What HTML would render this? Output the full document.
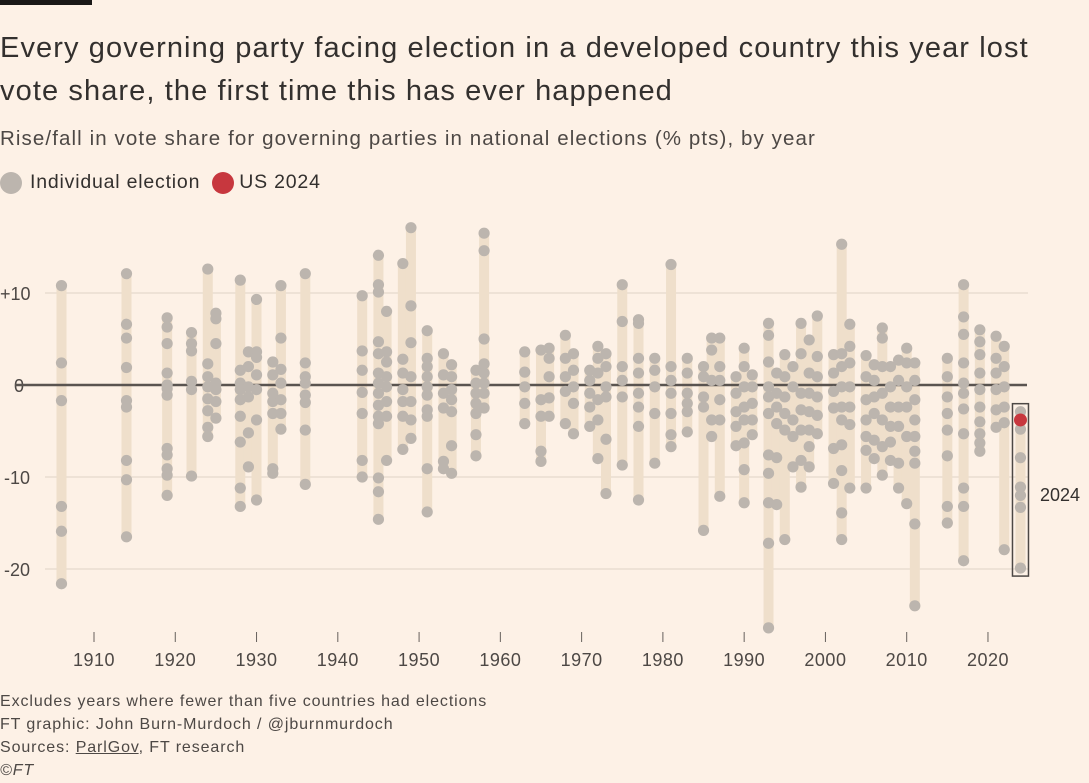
<!DOCTYPE html>
<html><head><meta charset="utf-8"><style>
body{margin:0;background:#fdf1e6;font-family:"Liberation Sans",sans-serif;color:#33302e;}
#wrap{position:relative;width:1089px;height:783px;overflow:hidden;background:#fdf1e6;}
.t{position:absolute;white-space:nowrap;}
</style></head><body>
<div id="wrap">
<div class="t" style="left:0;top:0;width:92px;height:5px;background:#1a1817"></div>
<div class="t" style="left:0;top:27px;font-size:29px;letter-spacing:1.1px;line-height:43px;color:#33302e">Every governing party facing election in a developed country this year lost<br>vote share, the first time this has ever happened</div>
<div class="t" style="left:0;top:127px;font-size:20.5px;letter-spacing:1.1px;color:#4d4845">Rise/fall in vote share for governing parties in national elections (% pts), by year</div>
<div class="t" style="left:0;top:171px;font-size:19.5px;letter-spacing:0.8px;color:#33302e;display:flex;align-items:center">
<span style="display:inline-block;width:22px;height:22px;border-radius:50%;background:#bcb5ae;margin-right:8px"></span><span>Individual election</span>
<span style="display:inline-block;width:22px;height:22px;border-radius:50%;background:#c7373e;margin:0 5px 0 12px"></span><span>US 2024</span></div>
<svg id="plot" width="1089" height="783" style="position:absolute;left:0;top:0"></svg>
<div class="t" style="left:0;top:690px;font-size:16px;letter-spacing:0.9px;line-height:23px;color:#4d4845">Excludes years where fewer than five countries had elections<br>FT graphic: John Burn-Murdoch / @jburnmurdoch<br>Sources: <span style="text-decoration:underline">ParlGov</span>, FT research<br><i>©FT</i></div>
</div>
<script>
const years=[1906,1914,1919,1922,1924,1925,1928,1929,1930,1932,1933,1936,1943,1945,1946,1948,1949,1951,1953,1954,1957,1958,1963,1965,1966,1968,1969,1971,1972,1973,1975,1977,1979,1981,1983,1985,1986,1987,1989,1990,1991,1993,1994,1995,1996,1997,1998,1999,2001,2002,2003,2005,2006,2007,2008,2009,2010,2011,2015,2017,2019,2021,2022,2024];
const values=[
[10.8,2.4,-1.7,-13.2,-15.9,-21.6],
[12.1,6.6,5.1,1.9,-1.7,-2.4,-8.2,-10.3,-16.5],
[7.3,6.3,4.5,1.3,0,-0.4,-1.1,-6.9,-7.6,-9.1,-9.8,-12],
[5.7,4.5,3.7,0.4,-0.5,-9.9],
[12.6,2.3,0.9,-0.2,-1.5,-2.8,-4.6,-5.6],
[7.8,7.2,4.5,0.2,-0.5,-1.8,-3.6],
[11.4,1.6,0.2,-0.5,-1.6,-3.4,-6.2,-11.2,-13.2],
[3.6,2,-0.2,-1.3,-5.2,-8.9],
[9.3,3.6,3,1.1,-0.5,-3.8,-12.5],
[2.5,1.1,-0.9,-1.8,-3.1,-9.1,-9.6],
[10.8,5.1,1.7,0.2,-1.6,-3.1,-4.8],
[12.1,2.4,0.9,0.2,-1.1,-1.9,-4.9,-10.8],
[9.7,3.7,1.6,-0.8,-3.1,-8.2,-10],
[14.1,10.9,10.1,4.7,3.4,1.3,0.2,-0.9,-2.2,-3.4,-4.2,-10.1,-11.6,-14.6],
[8,3.6,2.5,0.9,-0.2,-1.8,-3.4,-8.2],
[13.2,2.8,1.3,-0.5,-1.8,-3.4,-7],
[17.1,8.6,4.6,0.9,-1.8,-3.8,-5.8],
[5.9,2.9,2,0.9,-0.2,-1.1,-2.7,-3.4,-9.1,-13.8],
[3.4,1.1,-0.9,-2.5,-8.3,-9.1],
[2.2,0.9,-0.5,-1.6,-2.9,-6.6,-9.6],
[1.6,0.2,-0.9,-2,-3.1,-5.4,-7.7],
[16.5,14.6,5,2.3,1.3,0.2,-0.9,-2.5],
[3.6,1.4,-0.2,-2,-4.2],
[3.8,-1.6,-3.4,-7.2,-8.3],
[4,2.9,0.9,-1.4,-3.4],
[5.4,2.9,0.9,-0.7,-4.2],
[3.4,1.6,-0.2,-2,-5.3],
[1.6,0.5,-0.9,-2.4,-4.5],
[4.2,2.9,1.3,-1.6,-3.8,-8],
[3.4,2,-0.2,-1.3,-5.9,-11.8],
[10.9,6.9,2,0.5,-1.3,-8.7],
[7.1,6.7,2.9,1.3,-0.9,-2.4,-4.5,-12.5],
[2.9,1.6,-0.2,-3.1,-8.5],
[13.1,2,0.5,-0.9,-3.1,-5.4,-6.7],
[2.9,1.3,-0.9,-2,-2.9,-5.1],
[2,0.9,-1.3,-2.4,-15.8],
[5.1,3.8,0.5,-3.8,-5.6],
[5.1,2,0.5,-1.6,-3.8,-12.1],
[0.9,-0.9,-2.9,-4.5,-6.6],
[4,2,-0.2,-2.4,-3.8,-6.3,-9.2,-12.8],
[1.1,-0.2,-2,-3.8,-5.4],
[6.7,5.4,2.5,-0.2,-1.3,-3.1,-7.6,-9.6,-12.8,-17.2,-26.4],
[1.3,-0.9,-2.4,-4.2,-7.9,-13],
[3.3,0.9,-1.3,-3.1,-4.9,-16.8],
[2,-0.2,-3.8,-5.6,-8.9],
[6.7,3.4,-0.9,-2.7,-4.9,-8.2,-11.1],
[4.9,1.3,-0.9,-2.9,-4.9,-6.7,-8.9],
[7.5,3.1,0.9,-1.3,-3.3,-5.3],
[3.3,1.3,-0.7,-2.5,-6.9,-10.7],
[15.3,3.4,2,-0.2,-2.4,-3.8,-6.5,-9.3,-13.9,-16.8],
[6.6,4.2,2.4,-0.2,-2.4,-4.3,-11.2],
[3.2,0.9,-1.6,-3.8,-5.6,-7.1,-11.2],
[2.2,0.5,-1.3,-3.1,-6,-8],
[6.2,5.1,2,-0.9,-3.8,-6.7,-9.8],
[2,-0.2,-2.4,-4.5,-6.2,-8.2],
[2.7,0.5,-2.4,-4.5,-8.5,-11.2],
[4,2.4,-0.2,-2.4,-5.6,-12.9],
[2.4,0.5,-1.6,-3.8,-5.6,-7.2,-8.5,-15.1,-24],
[2.9,0.9,-1.3,-3.1,-4.9,-7.7,-13.2,-15],
[10.9,7.4,5.5,2.4,0.2,-0.9,-2.6,-5.3,-11.2,-13.2,-19.1],
[6,4.7,3.3,1.3,-0.5,-2.4,-4,-5.3,-6.3,-7.2],
[5.3,2.9,1.3,-0.5,-2.7,-4.6],
[4.2,2,-0.2,-2.4,-4.1,-17.9],
[-2.9,-4.8,-7.9,-11.1,-12,-13.3,-19.9]
];
const usYear=2024;
const usValue=-3.8;
const yTicks=[10,0,-10,-20];
const yTickLabels=["+10","0","-10","-20"];
const xTicks=[1910,1920,1930,1940,1950,1960,1970,1980,1990,2000,2010,2020];

const NS="http://www.w3.org/2000/svg";
const svg=document.getElementById('plot');
const X=y=>94+(y-1910)*8.127;
const Y=v=>385-v*9.2;
function mk(tag,attrs){const e=document.createElementNS(NS,tag);for(const k in attrs)e.setAttribute(k,attrs[k]);svg.appendChild(e);return e;}
yTicks.forEach((t,i)=>{
  if(t!==0){const g=mk('line',{x1:45,x2:1028,y1:Y(t),y2:Y(t),stroke:'#e9ddd0','stroke-width':1.5});
  
  }
  const l=mk('text',{x:t===0?14:(t>0?0:4),y:Y(t)+7,'font-size':18,fill:'#4d4845','font-family':'Liberation Sans'});
  l.textContent=yTickLabels[i];
  
  
});
xTicks.forEach(t=>{
  const tk=mk('line',{x1:X(t),x2:X(t),y1:632,y2:642,stroke:'#66605c','stroke-width':1});
  
  
  const l=mk('text',{x:X(t),y:666,'font-size':18,'letter-spacing':0.5,fill:'#4d4845','text-anchor':'middle','font-family':'Liberation Sans'});
  l.textContent=t;
  
  
});
years.forEach((yr,i)=>{
  const vs=values[i].slice(); if(yr===usYear) vs.push(usValue);
  const mx=Math.max(...vs), mn=Math.min(...vs);
  const r=mk('rect',{x:X(yr)-5,y:Y(mx),width:10,height:Y(mn)-Y(mx),fill:'#efdfcb'});
  
  
});
const zl=mk('line',{x1:15,x2:1027,y1:Y(0),y2:Y(0),stroke:'#5a5450','stroke-width':2.5});


years.forEach((yr,i)=>{
  values[i].forEach(v=>{
    const c=mk('circle',{cx:X(yr),cy:Y(v),r:5.6,fill:'#bcb5ae'});
    
    
  });
});
const us=mk('circle',{cx:X(usYear),cy:Y(usValue),r:6.5,fill:'#c7373e'});


const v24=values[years.indexOf(usYear)].concat([usValue]);
const bx=mk('rect',{x:X(usYear)-8,y:Y(Math.max(...v24))-8,width:16,height:Y(Math.min(...v24))-Y(Math.max(...v24))+16,fill:'none',stroke:'#4d4845','stroke-width':1.5});


const lb=mk('text',{x:1040,y:501,'font-size':18,fill:'#33302e','font-family':'Liberation Sans'});
lb.textContent='2024';


</script>
</body></html>
